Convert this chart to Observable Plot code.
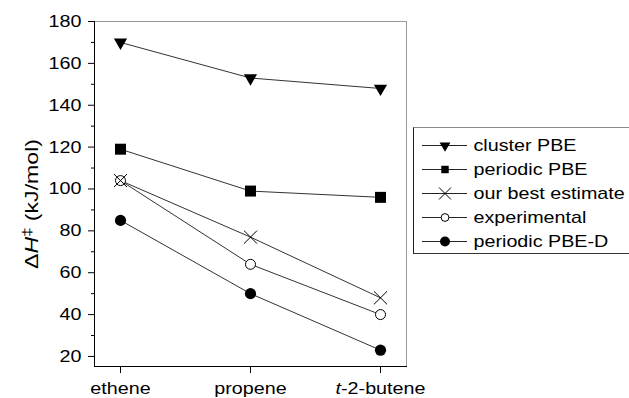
<!DOCTYPE html>
<html><head><meta charset="utf-8">
<script src="https://cdn.jsdelivr.net/npm/d3@7"></script>
<script src="https://cdn.jsdelivr.net/npm/@observablehq/plot@0.6"></script>
<style>
html,body{margin:0;padding:0;background:#fff;}
#wrap{position:relative;width:629px;height:398px;overflow:hidden;font-family:"Liberation Sans",Arial,sans-serif;}
#legend{position:absolute;left:413px;top:127px;width:216px;height:127px;box-sizing:border-box;border-top:1px solid #8a8a8a;border-left:1px solid #222;border-bottom:1px solid #333;background:#fff;overflow:hidden;}
#legend svg{display:block;}
</style></head><body><div id="wrap"><div id="chart"></div><div id="legend"></div></div>
<script>
const categories = ["ethene", "propene", "t-2-butene"];
const seriesNames = ["cluster PBE", "periodic PBE", "our best estimate", "experimental", "periodic PBE-D"];
const clusterPBE = [170, 153, 148];
const periodicPBE = [119, 99, 96];
const bestEstimate = [104, 77, 48];
const experimental = [104, 64, 40];
const periodicPBED = [85, 50, 23];
const yTicks = [20, 40, 60, 80, 100, 120, 140, 160, 180];
const yMinorTicks = [30, 50, 70, 90, 110, 130, 150, 170];
const yLabel = "ΔH‡ (kJ/mol)";

const seriesValues = [clusterPBE, periodicPBE, bestEstimate, experimental, periodicPBED];
const data = seriesNames.flatMap((s, i) => categories.map((c, j) => ({series: s, category: c, value: seriesValues[i][j]})));

const styles = {
  "cluster PBE": {symbol: "triangle", rotate: 180, fill: "black", stroke: "none", r: 4.9, lr: 4},
  "periodic PBE": {symbol: "square", rotate: 0, fill: "black", stroke: "none", r: 6.2, lr: 4.2},
  "our best estimate": {symbol: "times", rotate: 0, fill: "none", stroke: "black", r: 6, lr: 5.5},
  "experimental": {symbol: "circle", rotate: 0, fill: "white", stroke: "black", r: 5, lr: 3.9},
  "periodic PBE-D": {symbol: "circle", rotate: 0, fill: "black", stroke: "none", r: 5.6, lr: 5}
};
const drawOrder = ["cluster PBE", "periodic PBE", "experimental", "our best estimate", "periodic PBE-D"];

const font = '"Liberation Sans", Arial, sans-serif';
const stretch = 1.16; // the reference's lettering is wider than Arial

const chart = Plot.plot({
  width: 629, height: 398,
  marginLeft: 94, marginRight: 223, marginTop: 21, marginBottom: 32,
  x: {type: "point", domain: categories, padding: 0.2},
  y: {domain: [15.2, 180]},
  style: {fontFamily: font, fontSize: "17px", color: "black", background: "white"},
  marks: [
    Plot.frame({stroke: "#999"}),
    Plot.frame({anchor: "left", stroke: "black"}),
    Plot.frame({anchor: "bottom", stroke: "black"}),
    Plot.axisY({ticks: yMinorTicks, tickSize: 3, tickFormat: () => "", label: null}),
    Plot.axisY({ticks: yTicks, tickSize: 6, tickPadding: 7, label: yLabel, labelAnchor: "center", labelOffset: 69, labelArrow: "none"}),
    Plot.axisX({ticks: categories, tickSize: 7, tickPadding: 8, label: null}),
    Plot.line(data, {x: "category", y: "value", z: "series", stroke: "#333", strokeWidth: 1}),
    ...drawOrder.map(s => {
      const st = styles[s];
      return Plot.dot(data.filter(d => d.series === s), {
        x: "category", y: "value", symbol: st.symbol, r: st.r, rotate: st.rotate,
        fill: st.fill, stroke: st.stroke, strokeWidth: 1
      });
    })
  ]
});
document.getElementById("chart").appendChild(chart);

// stretch glyphs along the text's own direction, around its anchor
function widen(t, sx) {
  const tr = t.getAttribute("transform") || "";
  t.setAttribute("transform", `${tr} scale(${sx},1)`);
}

// rich text: italic H, superscript double dagger
const yl = chart.querySelector('g[aria-label="y-axis label"] text');
if (yl) {
  yl.innerHTML = 'Δ<tspan font-style="italic">H</tspan><tspan dy="-7" font-size="13">‡</tspan><tspan dy="7"> (kJ/mol)</tspan>';
  yl.setAttribute("font-size", "18");
  const L = yl.getComputedTextLength();
  const s = L > 0 ? 130 / L : 1.2;
  yl.setAttribute("x", (-10 / s).toFixed(2));
  widen(yl, s);
}
chart.querySelectorAll('g[aria-label="x-axis tick label"] text').forEach(t => {
  if (t.textContent === "t-2-butene") t.innerHTML = '<tspan font-style="italic">t</tspan>-2-butene';
  widen(t, stretch);
});
chart.querySelectorAll('g[aria-label="y-axis tick label"] text').forEach(t => widen(t, stretch));

const legend = Plot.plot({
  width: 215, height: 125,
  marginLeft: 8, marginRight: 162, marginTop: 16, marginBottom: 11,
  y: {type: "point", domain: seriesNames, axis: null, padding: 0},
  style: {fontFamily: font, fontSize: "17px", color: "black", background: "white", overflow: "visible"},
  marks: [
    Plot.ruleY(seriesNames, {y: d => d, stroke: "#222", strokeWidth: 1}),
    ...seriesNames.map(s => {
      const st = styles[s];
      return Plot.dot([s], {y: d => d, frameAnchor: "middle", symbol: st.symbol, r: st.lr, rotate: st.rotate,
        fill: st.fill, stroke: st.stroke, strokeWidth: 1});
    }),
    Plot.text(seriesNames, {y: d => d, text: d => d, frameAnchor: "right", textAnchor: "start", dx: 6, fill: "black"})
  ]
});
document.getElementById("legend").appendChild(legend);
legend.querySelectorAll('g[aria-label="text"] text').forEach(t => widen(t, stretch));
</script>
</body></html>
